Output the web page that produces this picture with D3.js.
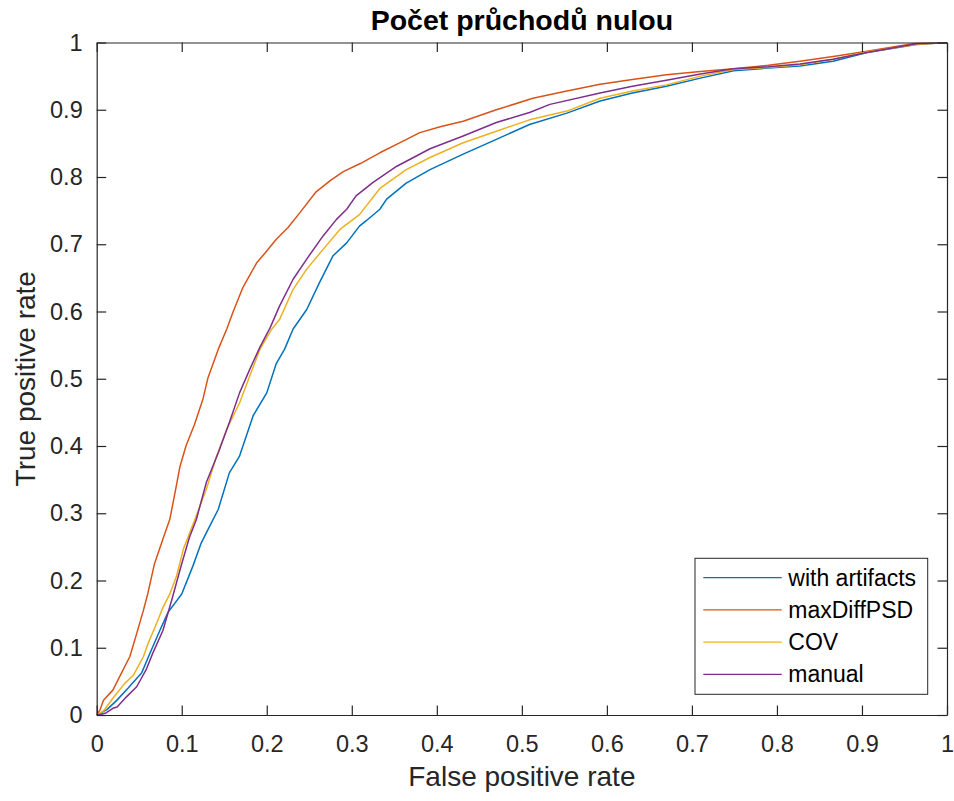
<!DOCTYPE html>
<html>
<head>
<meta charset="utf-8">
<script src="https://cdn.jsdelivr.net/npm/d3@7"></script>
<style>
  html, body { margin: 0; padding: 0; background: #ffffff; }
  svg { display: block; font-family: "Liberation Sans", Arial, Helvetica, sans-serif; }
</style>
</head>
<body>
<svg id="chart" width="954" height="801"></svg>
<script>
// ---------- data ----------
const titleText = "Počet průchodů nulou";
const xLabelText = "False positive rate";
const yLabelText = "True positive rate";
const seriesNames = ["with artifacts", "maxDiffPSD", "COV", "manual"];
const seriesColors = ["#0072BD", "#D95319", "#EDB120", "#7E2F8E"];
const xTickValues = [0, 0.1, 0.2, 0.3, 0.4, 0.5, 0.6, 0.7, 0.8, 0.9, 1];
const xTickLabels = ["0", "0.1", "0.2", "0.3", "0.4", "0.5", "0.6", "0.7", "0.8", "0.9", "1"];
const yTickValues = [0, 0.1, 0.2, 0.3, 0.4, 0.5, 0.6, 0.7, 0.8, 0.9, 1];
const yTickLabels = ["0", "0.1", "0.2", "0.3", "0.4", "0.5", "0.6", "0.7", "0.8", "0.9", "1"];

// [false positive rate, true positive rate]
const withArtifacts = [
  [0,0],[0.006,0.004],[0.012,0.008],[0.023,0.021],[0.037,0.040],[0.053,0.063],[0.062,0.090],
  [0.074,0.125],[0.084,0.153],[0.100,0.180],[0.113,0.221],[0.123,0.256],[0.131,0.276],
  [0.143,0.306],[0.156,0.360],[0.168,0.385],[0.184,0.445],[0.200,0.479],[0.211,0.522],
  [0.221,0.544],[0.231,0.574],[0.247,0.603],[0.262,0.643],[0.278,0.683],[0.294,0.702],
  [0.309,0.727],[0.317,0.735],[0.333,0.752],[0.341,0.767],[0.364,0.791],[0.392,0.811],
  [0.431,0.834],[0.470,0.856],[0.509,0.878],[0.553,0.895],[0.592,0.913],[0.630,0.925],
  [0.670,0.935],[0.710,0.947],[0.749,0.958],[0.790,0.962],[0.827,0.965],[0.866,0.972],
  [0.906,0.985],[0.964,0.997],[1,1]
];
const maxDiffPSD = [
  [0,0],[0.004,0.008],[0.008,0.022],[0.019,0.037],[0.027,0.057],[0.039,0.087],[0.047,0.121],
  [0.055,0.156],[0.060,0.180],[0.068,0.225],[0.078,0.262],[0.086,0.291],[0.092,0.330],
  [0.098,0.370],[0.105,0.400],[0.115,0.432],[0.125,0.470],[0.131,0.502],[0.143,0.544],
  [0.153,0.574],[0.160,0.598],[0.172,0.636],[0.188,0.672],[0.200,0.690],[0.211,0.707],
  [0.225,0.725],[0.239,0.747],[0.258,0.778],[0.275,0.795],[0.290,0.808],[0.310,0.820],
  [0.333,0.836],[0.355,0.850],[0.380,0.866],[0.405,0.875],[0.431,0.883],[0.470,0.900],
  [0.513,0.917],[0.550,0.927],[0.592,0.938],[0.630,0.945],[0.670,0.952],[0.710,0.957],
  [0.749,0.961],[0.790,0.966],[0.827,0.972],[0.870,0.980],[0.906,0.987],[0.940,0.994],
  [0.964,0.999],[1,1]
];
const cov = [
  [0,0],[0.008,0.006],[0.019,0.025],[0.033,0.047],[0.043,0.059],[0.055,0.087],[0.060,0.105],
  [0.070,0.135],[0.078,0.160],[0.086,0.180],[0.094,0.207],[0.102,0.247],[0.115,0.289],
  [0.129,0.336],[0.141,0.385],[0.153,0.425],[0.168,0.464],[0.180,0.504],[0.192,0.544],
  [0.206,0.574],[0.215,0.588],[0.231,0.633],[0.247,0.663],[0.266,0.692],[0.286,0.722],
  [0.309,0.744],[0.333,0.783],[0.364,0.811],[0.392,0.829],[0.431,0.851],[0.470,0.868],
  [0.509,0.885],[0.553,0.898],[0.592,0.917],[0.630,0.928],[0.670,0.937],[0.710,0.950],
  [0.749,0.960],[0.790,0.963],[0.827,0.967],[0.866,0.975],[0.906,0.986],[0.964,0.997],[1,1]
];
const manual = [
  [0,0],[0.005,0.001],[0.011,0.003],[0.019,0.010],[0.024,0.012],[0.035,0.027],[0.047,0.042],
  [0.058,0.067],[0.066,0.092],[0.078,0.126],[0.088,0.170],[0.100,0.225],[0.109,0.264],
  [0.117,0.290],[0.129,0.346],[0.143,0.390],[0.156,0.435],[0.168,0.479],[0.180,0.514],
  [0.192,0.547],[0.204,0.576],[0.215,0.608],[0.231,0.648],[0.247,0.678],[0.266,0.712],
  [0.282,0.737],[0.294,0.752],[0.305,0.772],[0.325,0.792],[0.353,0.816],[0.392,0.842],
  [0.431,0.861],[0.470,0.881],[0.509,0.896],[0.533,0.908],[0.592,0.925],[0.630,0.935],
  [0.670,0.944],[0.710,0.953],[0.749,0.961],[0.790,0.964],[0.827,0.968],[0.866,0.975],
  [0.906,0.985],[0.964,0.998],[1,1]
];
const seriesData = [withArtifacts, maxDiffPSD, cov, manual];

// ---------- layout ----------
const plot = { left: 96.7, right: 947, top: 42.5, bottom: 715 };
const axisColor = "#262626";
const tickFont = 23.5;

const svg = d3.select("#chart");
svg.append("rect").attr("width", 954).attr("height", 801).attr("fill", "#ffffff");

const x = d3.scaleLinear().domain([0, 1]).range([plot.left, plot.right]);
const y = d3.scaleLinear().domain([0, 1]).range([plot.bottom, plot.top]);

// clip
svg.append("defs").append("clipPath").attr("id", "clip")
  .append("rect")
  .attr("x", plot.left).attr("y", plot.top)
  .attr("width", plot.right - plot.left).attr("height", plot.bottom - plot.top);

// curves
const line = d3.line().x(d => x(d[0])).y(d => y(d[1]));
const curves = svg.append("g").attr("clip-path", "url(#clip)");
seriesData.forEach((s, i) => {
  curves.append("path")
    .datum(s)
    .attr("fill", "none")
    .attr("stroke", seriesColors[i])
    .attr("stroke-width", 1.5)
    .attr("stroke-linejoin", "round")
    .attr("d", line);
});

// axes
function styleAxis(g) {
  g.select(".domain").attr("stroke", axisColor).attr("stroke-width", 1.2);
  g.selectAll(".tick line").attr("stroke", axisColor).attr("stroke-width", 1.2);
  g.selectAll(".tick text").attr("fill", axisColor)
    .attr("font-size", tickFont)
    .attr("font-family", "'Liberation Sans', Arial, Helvetica, sans-serif");
}
const tickLen = 9.5;
const gBottom = svg.append("g").attr("transform", `translate(0,${plot.bottom})`)
  .call(d3.axisBottom(x).tickValues(xTickValues)
    .tickFormat((d, i) => xTickLabels[i])
    .tickSizeInner(-tickLen).tickSizeOuter(0).tickPadding(20));
styleAxis(gBottom);

const gTop = svg.append("g").attr("transform", `translate(0,${plot.top})`)
  .call(d3.axisTop(x).tickValues(xTickValues).tickFormat("")
    .tickSizeInner(-tickLen).tickSizeOuter(0));
styleAxis(gTop);

const gLeft = svg.append("g").attr("transform", `translate(${plot.left},0)`)
  .call(d3.axisLeft(y).tickValues(yTickValues)
    .tickFormat((d, i) => yTickLabels[i])
    .tickSizeInner(-tickLen).tickSizeOuter(0).tickPadding(14));
styleAxis(gLeft);

const gRight = svg.append("g").attr("transform", `translate(${plot.right},0)`)
  .call(d3.axisRight(y).tickValues(yTickValues).tickFormat("")
    .tickSizeInner(-tickLen).tickSizeOuter(0));
styleAxis(gRight);

// title & labels
svg.append("text")
  .attr("x", (plot.left + plot.right) / 2).attr("y", 30)
  .attr("text-anchor", "middle")
  .attr("font-size", 28.5).attr("font-weight", "bold")
  .attr("fill", "#000000")
  .text(titleText);

svg.append("text")
  .attr("x", (plot.left + plot.right) / 2).attr("y", 786)
  .attr("text-anchor", "middle")
  .attr("font-size", 28).attr("fill", axisColor)
  .text(xLabelText);

svg.append("text")
  .attr("transform", `translate(35,${(plot.top + plot.bottom) / 2}) rotate(-90)`)
  .attr("text-anchor", "middle")
  .attr("font-size", 28).attr("fill", axisColor)
  .text(yLabelText);

// legend
const legend = { x0: 695, y0: 558.3, x1: 927.7, y1: 694.3 };
const lg = svg.append("g");
lg.append("rect")
  .attr("x", legend.x0).attr("y", legend.y0)
  .attr("width", legend.x1 - legend.x0).attr("height", legend.y1 - legend.y0)
  .attr("fill", "#ffffff").attr("stroke", axisColor).attr("stroke-width", 1);
const rowY = d3.scalePoint().domain(seriesNames).range([577.7, 674.3]);
seriesNames.forEach((name, i) => {
  const yy = rowY(name);
  lg.append("line")
    .attr("x1", 703.3).attr("x2", 781.7).attr("y1", yy).attr("y2", yy)
    .attr("stroke", seriesColors[i]).attr("stroke-width", 1.2);
  lg.append("text")
    .attr("x", 788.3).attr("y", yy).attr("dy", "0.35em")
    .attr("font-size", 23).attr("fill", "#000000")
    .text(name);
});
</script>
</body>
</html>
